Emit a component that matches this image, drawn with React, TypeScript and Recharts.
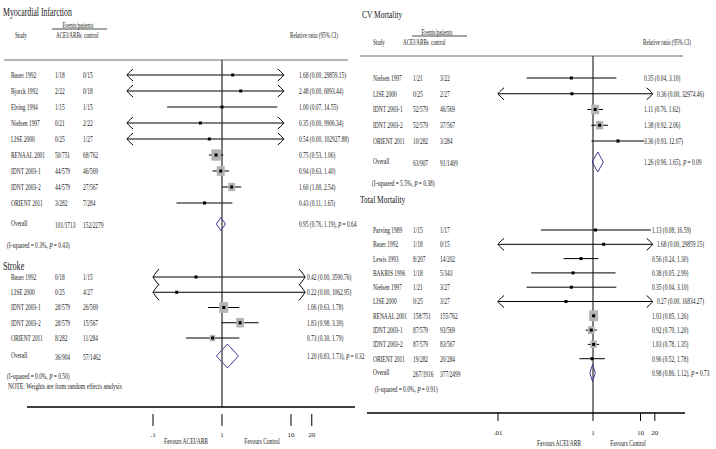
import React from "react";
import { ComposedChart, XAxis, YAxis, Line, Scatter, ReferenceLine } from "recharts";

// Myocardial infarction
const miStudies = ["Bauer 1992", "Bjorck 1992", "Elving 1994", "Nielsen 1997", "LISE 2000", "RENAAL 2001", "IDNT 2003-1", "IDNT 2003-2", "ORIENT 2011"];
const miTreated = ["1/18", "2/22", "1/15", "0/21", "0/25", "50/751", "44/579", "44/579", "3/282"];
const miControl = ["0/15", "0/18", "1/15", "2/22", "1/27", "68/762", "46/569", "27/567", "7/284"];
const miRatio = [1.68, 2.48, 1.0, 0.35, 0.54, 0.75, 0.94, 1.6, 0.43];
const miLower = [0.0001, 0.001, 0.07, 0.00001, 0.000003, 0.53, 0.63, 1.0, 0.11];
const miUpper = [29859.15, 6093.44, 14.55, 9906.34, 102927.88, 1.06, 1.4, 2.54, 1.65];
const miWeight = [0, 0, 1, 0, 0, 42, 30, 22, 3];
const miOverall = [0.95, 0.76, 1.19];
const miOverallP = "0.64";
const miTotals = ["101/1713", "152/2279"];
const miHetero = ["0.3%", "0.43"];

// Stroke
const stStudies = ["Bauer 1992", "LISE 2000", "IDNT 2003-1", "IDNT 2003-2", "ORIENT 2011"];
const stTreated = ["0/18", "0/25", "28/579", "28/579", "8/282"];
const stControl = ["1/15", "4/27", "26/569", "15/567", "11/284"];
const stRatio = [0.42, 0.22, 1.06, 1.83, 0.73];
const stLower = [0.0001, 0.0001, 0.63, 0.98, 0.3];
const stUpper = [3590.76, 1062.95, 1.78, 3.39, 1.79];
const stWeight = [0, 0, 40, 30, 14];
const stOverall = [1.2, 0.83, 1.73];
const stOverallP = "0.32";
const stTotals = ["36/904", "57/1462"];
const stHetero = ["0.0%", "0.50"];

// CV mortality
const cvStudies = ["Nielsen 1997", "LISE 2000", "IDNT 2003-1", "IDNT 2003-2", "ORIENT 2011"];
const cvTreated = ["1/21", "0/25", "52/579", "52/579", "10/282"];
const cvControl = ["3/22", "2/27", "46/569", "37/567", "3/284"];
const cvRatio = [0.35, 0.36, 1.11, 1.38, 3.36];
const cvLower = [0.04, 0.000004, 0.76, 0.92, 0.93];
const cvUpper = [3.1, 32974.46, 1.62, 2.06, 12.07];
const cvWeight = [2, 0, 50, 40, 6];
const cvOverall = [1.26, 0.96, 1.65];
const cvOverallP = "0.09";
const cvTotals = ["63/907", "91/1469"];
const cvHetero = ["5.5%", "0.38"];

// Total mortality
const tmStudies = ["Parving 1989", "Bauer 1992", "Lewis 1993", "BAKRIS 1996", "Nielsen 1997", "LISE 2000", "RENAAL 2001", "IDNT 2003-1", "IDNT 2003-2", "ORIENT 2011"];
const tmTreated = ["1/15", "1/18", "8/207", "1/18", "1/21", "0/25", "158/751", "87/579", "87/579", "19/282"];
const tmControl = ["1/17", "0/15", "14/202", "5/343", "3/27", "3/27", "155/762", "93/569", "83/567", "20/284"];
const tmRatio = [1.13, 1.68, 0.56, 0.38, 0.35, 0.27, 1.03, 0.92, 1.03, 0.96];
const tmLower = [0.08, 0.0001, 0.24, 0.05, 0.04, 0.000004, 0.85, 0.7, 0.78, 0.52];
const tmUpper = [16.59, 29859.15, 1.3, 2.99, 3.1, 16834.27, 1.26, 1.2, 1.35, 1.78];
const tmWeight = [0.5, 0, 2.5, 0.8, 0.8, 0, 45, 24, 22, 5];
const tmOverall = [0.98, 0.86, 1.12];
const tmOverallP = "0.73";
const tmTotals = ["267/1916", "377/2499"];
const tmHetero = ["0.0%", "0.91"];

const leftTicks = [0.1, 1, 10, 20];
const leftTickLabels = [".1", "1", "10", "20"];
const rightTicks = [0.01, 1, 10, 20];
const rightTickLabels = [".01", "1", "10", "20"];

type Sec = {
  studies: string[]; treated: string[]; control: string[];
  ratio: number[]; lower: number[]; upper: number[]; weight: number[];
  overall: number[]; p: string; totals: string[]; het: string[];
};
type Lay = { top: number; step: number; overallY: number; hetY: number; clip: number[]; box: number; dh: number; ah: number };
type Cols = { name: number; e1: number; e2: number; ratio: number; het: number; arrowPad: number };

const mi: Sec = { studies: miStudies, treated: miTreated, control: miControl, ratio: miRatio, lower: miLower, upper: miUpper, weight: miWeight, overall: miOverall, p: miOverallP, totals: miTotals, het: miHetero };
const st: Sec = { studies: stStudies, treated: stTreated, control: stControl, ratio: stRatio, lower: stLower, upper: stUpper, weight: stWeight, overall: stOverall, p: stOverallP, totals: stTotals, het: stHetero };
const cv: Sec = { studies: cvStudies, treated: cvTreated, control: cvControl, ratio: cvRatio, lower: cvLower, upper: cvUpper, weight: cvWeight, overall: cvOverall, p: cvOverallP, totals: cvTotals, het: cvHetero };
const tm: Sec = { studies: tmStudies, treated: tmTreated, control: tmControl, ratio: tmRatio, lower: tmLower, upper: tmUpper, weight: tmWeight, overall: tmOverall, p: tmOverallP, totals: tmTotals, het: tmHetero };

const miLay: Lay = { top: 75, step: 16, overallY: 224, hetY: 245, clip: [0.01, 20], box: 1.47, dh: 6.5, ah: 6 };
const stLay: Lay = { top: 277, step: 15.25, overallY: 356, hetY: 376, clip: [0.1, 16], box: 1.42, dh: 12, ah: 8 };
const cvLay: Lay = { top: 78, step: 15.75, overallY: 162, hetY: 183, clip: [0.01, 18], box: 1.13, dh: 10, ah: 6 };
const tmLay: Lay = { top: 230, step: 14.3, overallY: 373, hetY: 389, clip: [0.01, 18], box: 1.34, dh: 8.5, ah: 6 };

const miCols: Cols = { name: 11, e1: 55, e2: 83, ratio: 299, het: 7, arrowPad: 0 };
const stCols: Cols = { name: 11, e1: 55, e2: 83, ratio: 307, het: 7, arrowPad: 0 };
const cvCols: Cols = { name: 373, e1: 413, e2: 440, ratio: 644, het: 372, arrowPad: 13 };
const tmCols: Cols = { name: 373, e1: 413, e2: 440, ratio: 652, het: 375, arrowPad: 5 };

const FONT = "'Liberation Serif', 'DejaVu Serif', serif";
const SX = 0.68;
const INK = "#1a1a1a";
const DIAMOND = "#3d3d8f";

const logDomain = (plotW: number, origin: number, ppd: number): [number, number] => [
  10 ** (-origin / ppd),
  10 ** ((plotW - origin) / ppd),
];

const fmt = (r: number, l: number, h: number) => `${r.toFixed(2)} (${l.toFixed(2)}, ${h.toFixed(2)})`;

function T({ x, y, size = 8, anchor = "start", children }: { x: number; y: number; size?: number; anchor?: string; children: React.ReactNode }) {
  return (
    <text
      transform={`translate(${x},${y}) scale(${SX},1)`}
      fontSize={size}
      fontFamily={FONT}
      fill={INK}
      textAnchor={anchor as any}
      dominantBaseline="central"
    >
      {children}
    </text>
  );
}

function seriesFor(s: Sec, lay: Lay, axisId: string) {
  const rows = s.studies.map((_, i) => ({
    x: s.ratio[i],
    y: lay.top + i * lay.step,
    w: s.weight[i],
    lo: s.lower[i],
    hi: s.upper[i],
  }));
  const arrows = rows.flatMap((r) => [
    ...(r.lo < lay.clip[0] ? [{ x: lay.clip[0], y: r.y, dir: -1 }] : []),
    ...(r.hi > lay.clip[1] ? [{ x: lay.clip[1], y: r.y, dir: 1 }] : []),
  ]);
  const [o, ol, oh] = s.overall;
  const oy = lay.overallY;
  const diamond = [
    { x: ol, y: oy },
    { x: o, y: oy - lay.dh },
    { x: oh, y: oy },
    { x: o, y: oy + lay.dh },
    { x: ol, y: oy },
  ];
  return [
    <Scatter
      key={`${axisId}-box-${lay.top}`}
      xAxisId={axisId}
      yAxisId="y"
      data={rows}
      isAnimationActive={false}
      shape={(p: any) => {
        const side = lay.box * Math.sqrt(p.payload.w);
        if (!side) return <g />;
        return <rect x={p.cx - side / 2} y={p.cy - side * 0.6} width={side} height={side * 1.2} fill="#b4b4b4" />;
      }}
    />,
    ...rows.map((r, i) => (
      <Line
        key={`${axisId}-ci-${lay.top}-${i}`}
        xAxisId={axisId}
        yAxisId="y"
        data={[
          { x: Math.max(r.lo, lay.clip[0]), y: r.y },
          { x: Math.min(r.hi, lay.clip[1]), y: r.y },
        ]}
        dataKey="y"
        stroke="#000"
        strokeWidth={1}
        dot={false}
        activeDot={false}
        isAnimationActive={false}
      />
    )),
    <Scatter
      key={`${axisId}-dot-${lay.top}`}
      xAxisId={axisId}
      yAxisId="y"
      data={rows}
      isAnimationActive={false}
      shape={(p: any) => <rect x={p.cx - 1.5} y={p.cy - 1.5} width={3} height={3} fill="#000" />}
    />,
    <Scatter
      key={`${axisId}-arrow-${lay.top}`}
      xAxisId={axisId}
      yAxisId="y"
      data={arrows}
      isAnimationActive={false}
      shape={(p: any) => {
        const d = -p.payload.dir * 6;
        const h = lay.ah;
        const { cx, cy } = p;
        return (
          <path
            d={`M${cx + d},${cy - h} C${cx + d * 0.35},${cy - h * 0.45} ${cx + d * 0.1},${cy - 1} ${cx},${cy} C${cx + d * 0.1},${cy + 1} ${cx + d * 0.35},${cy + h * 0.45} ${cx + d},${cy + h}`}
            fill="none"
            stroke="#000"
            strokeWidth={1}
          />
        );
      }}
    />,
    <Line
      key={`${axisId}-diamond-${lay.top}`}
      xAxisId={axisId}
      yAxisId="y"
      data={diamond}
      dataKey="y"
      stroke={DIAMOND}
      strokeWidth={1}
      dot={false}
      activeDot={false}
      isAnimationActive={false}
    />,
  ];
}

function SectionText({ s, lay, cols }: { s: Sec; lay: Lay; cols: Cols }) {
  const [o, ol, oh] = s.overall;
  return (
    <g>
      {s.studies.map((name, i) => {
        const y = lay.top + i * lay.step;
        const pad = s.upper[i] > lay.clip[1] ? cols.arrowPad : 0;
        return (
          <g key={name + i}>
            <T x={cols.name} y={y}>{name}</T>
            <T x={cols.e1} y={y}>{s.treated[i]}</T>
            <T x={cols.e2} y={y}>{s.control[i]}</T>
            <T x={cols.ratio + pad} y={y}>{fmt(s.ratio[i], s.lower[i], s.upper[i])}</T>
          </g>
        );
      })}
      <T x={cols.name} y={lay.overallY - 1}>Overall</T>
      <T x={cols.e1} y={lay.overallY + 1}>{s.totals[0]}</T>
      <T x={cols.e2} y={lay.overallY + 1}>{s.totals[1]}</T>
      <T x={cols.ratio} y={lay.overallY}>
        {fmt(o, ol, oh)}, <tspan fontStyle="italic">P</tspan> = {s.p}
      </T>
      <T x={cols.het} y={lay.hetY}>
        (I-squared = {s.het[0]}, <tspan fontStyle="italic">P</tspan> = {s.het[1]})
      </T>
    </g>
  );
}

const makeTick = (ticks: number[], labels: string[], gap: number, len: number, off: number) => (p: any) => {
  const i = ticks.indexOf(p.payload.value);
  return (
    <g>
      <line x1={p.x} x2={p.x} y1={p.y + gap} y2={p.y + gap + len} stroke="#000" />
      <text x={p.x} y={p.y + off} textAnchor="middle" dominantBaseline="central" fontSize={7} fontFamily={FONT} fill={INK}>
        {labels[i]}
      </text>
    </g>
  );
};

function Header({ x, y, study, ev, evLine, ratio }: { x: number; y: number; study: number; ev: number; evLine: number[]; ratio: number }) {
  return (
    <g>
      <T x={ev} y={y - 10} size={7.5} anchor="middle">Events/patients</T>
      <line x1={evLine[0]} x2={evLine[1]} y1={y - 6} y2={y - 6} stroke={INK} strokeWidth={0.8} />
      <T x={study} y={y} size={7.5}>Study</T>
      <T x={x} y={y} size={7.5}>ACEI/ARBs</T>
      <T x={x + 28} y={y} size={7.5}>control</T>
      <T x={ratio} y={y} size={7.5}>Relative ratio (95% CI)</T>
    </g>
  );
}

export default function App() {
  const LW = 358;
  const RW = 358;
  const leftMargin = { top: 0, right: 3, bottom: 12, left: 27 };
  const rightMargin = { top: 0, right: 31, bottom: 6, left: 9 };
  const lPlot = LW - leftMargin.left - leftMargin.right;
  const rPlot = RW - rightMargin.left - rightMargin.right;
  const lOrigin = 222 - leftMargin.left;
  const rOrigin = 593 - LW - rightMargin.left;
  const lBottom = 407;
  const rBottom = 413;

  return (
    <div style={{ position: "absolute", left: 0, top: 0, width: 716, height: 449, background: "#fff" }}>
      <div style={{ position: "absolute", left: 0, top: 0 }}>
        <ComposedChart width={LW} height={449} margin={leftMargin}>
          <XAxis
            xAxisId="a-st"
            type="number"
            dataKey="x"
            scale="log"
            domain={logDomain(lPlot, lOrigin, 69)}
            allowDataOverflow
            ticks={leftTicks}
            interval={0}
            tickLine={false}
            tick={makeTick(leftTicks, leftTickLabels, 7, 12, 28)}
            tickSize={0}
            tickMargin={0}
            axisLine={{ stroke: "#000", strokeWidth: 1.2 }}
            height={30}
          />
          <XAxis xAxisId="b-mi" type="number" dataKey="x" scale="log" domain={logDomain(lPlot, lOrigin, 47.5)} allowDataOverflow hide height={0} />
          <YAxis yAxisId="y" type="number" dataKey="y" domain={[0, lBottom]} reversed allowDataOverflow hide />
          <ReferenceLine xAxisId="a-st" yAxisId="y" segment={[{ x: 1, y: 60 }, { x: 1, y: lBottom }]} stroke="#000" strokeWidth={1} />
          {seriesFor(mi, miLay, "b-mi")}
          {seriesFor(st, stLay, "a-st")}
        </ComposedChart>
      </div>
      <div style={{ position: "absolute", left: LW, top: 0 }}>
        <ComposedChart width={RW} height={449} margin={rightMargin}>
          <XAxis
            xAxisId="r"
            type="number"
            dataKey="x"
            scale="log"
            domain={logDomain(rPlot, rOrigin, 47.5)}
            allowDataOverflow
            ticks={rightTicks}
            interval={0}
            tickLine={false}
            tick={makeTick(rightTicks, rightTickLabels, 0, 8, 20)}
            tickSize={0}
            tickMargin={0}
            axisLine={{ stroke: "#000", strokeWidth: 1.2 }}
            height={30}
          />
          <YAxis yAxisId="y" type="number" dataKey="y" domain={[0, rBottom]} reversed allowDataOverflow hide />
          <ReferenceLine xAxisId="r" yAxisId="y" segment={[{ x: 1, y: 56 }, { x: 1, y: rBottom }]} stroke="#000" strokeWidth={1} />
          {seriesFor(cv, cvLay, "r")}
          {seriesFor(tm, tmLay, "r")}
        </ComposedChart>
      </div>
      <svg width={716} height={449} style={{ position: "absolute", left: 0, top: 0, pointerEvents: "none" }}>
        {/* axis baselines, drawn here as well so they always show */}
        <line x1={leftMargin.left} x2={LW - leftMargin.right} y1={lBottom} y2={lBottom} stroke="#000" strokeWidth={1.2} />
        <line x1={LW + rightMargin.left} x2={LW + RW - rightMargin.right} y1={rBottom} y2={rBottom} stroke="#000" strokeWidth={1.2} />

        <T x={3} y={12} size={11.5}>Myocardial Infarction</T>
        <Header x={56} y={35} study={15} ev={78} evLine={[52, 107]} ratio={290} />
        <line x1={4} x2={348} y1={60} y2={60} stroke="#444" strokeWidth={0.8} />
        <SectionText s={mi} lay={miLay} cols={miCols} />
        <T x={3} y={266} size={12}>Stroke</T>
        <SectionText s={st} lay={stLay} cols={stCols} />
        <T x={8} y={387} size={8.5}>NOTE: Weights are from random effects analysis</T>
        <T x={186} y={441} size={8} anchor="middle">Favours ACEI/ARB</T>
        <T x={262} y={441} size={8} anchor="middle">Favours Control</T>

        <T x={362} y={14} size={11}>CV Mortality</T>
        <Header x={403} y={42} study={373} ev={437} evLine={[412, 467]} ratio={643} />
        <line x1={360} x2={683} y1={56} y2={56} stroke="#444" strokeWidth={0.8} />
        <SectionText s={cv} lay={cvLay} cols={cvCols} />
        <T x={360} y={199} size={11}>Total Mortality</T>
        <SectionText s={tm} lay={tmLay} cols={tmCols} />
        <T x={559} y={443} size={8} anchor="middle">Favours ACEI/ARB</T>
        <T x={628} y={443} size={8} anchor="middle">Favours Control</T>
      </svg>
    </div>
  );
}
